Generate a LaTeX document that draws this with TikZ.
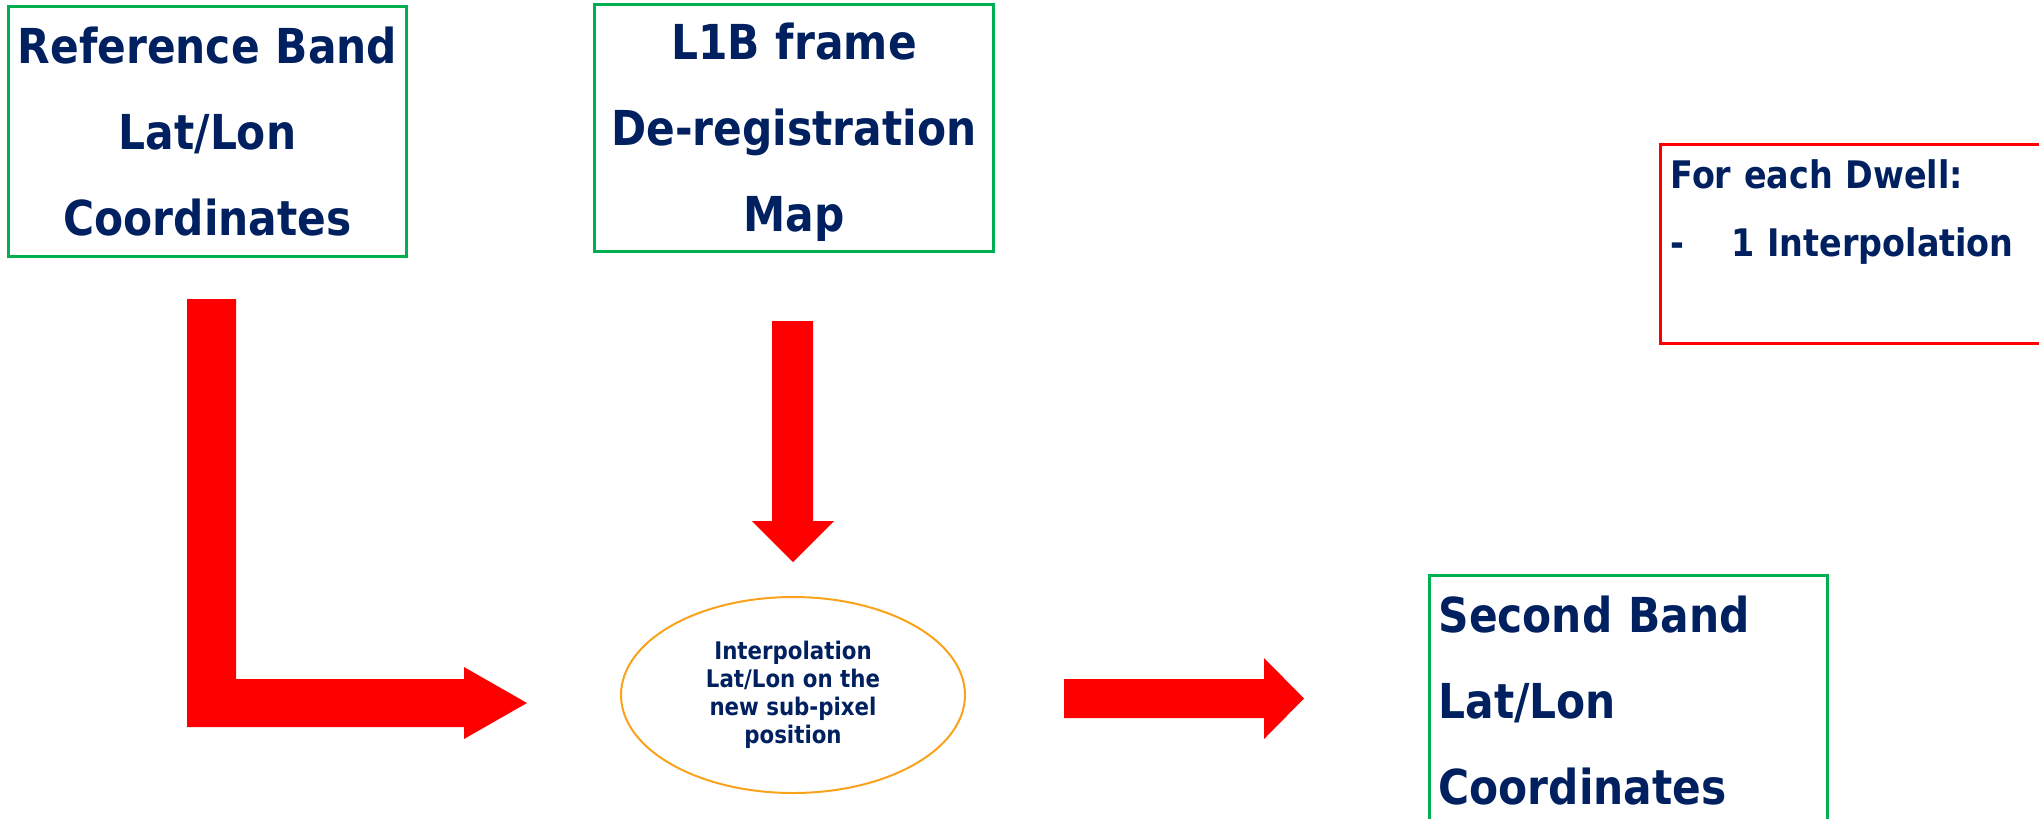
\documentclass[tikz,border=0pt]{standalone}
\usepackage{fontspec}
\usetikzlibrary{shapes.geometric}
\newfontfamily\diafont{DejaVu Sans}[FakeStretch=0.88]

\definecolor{txtblue}{HTML}{002060}
\definecolor{boxgreen}{HTML}{00B050}
\definecolor{arrowred}{HTML}{FF0000}
\definecolor{ellorange}{HTML}{F9A21B}

\tikzset{
  bigtext/.style={font=\diafont\bfseries\fontsize{13.7}{24.5}\selectfont, text=txtblue},
  midtext/.style={font=\diafont\bfseries\fontsize{10.8}{19.35}\selectfont, text=txtblue},
  smalltext/.style={font=\diafont\bfseries\fontsize{6.9}{8.0}\selectfont, text=txtblue},
  greenbox/.style={draw=boxgreen, line width=0.3mm, inner sep=0pt, anchor=north west},
  redbox/.style={draw=arrowred, line width=0.3mm, inner ysep=0pt, anchor=north west},
  blockarrow/.style={fill=arrowred, draw=none},
}

\begin{document}
\begin{tikzpicture}[x=0.1mm, y=-0.1mm]
\useasboundingbox (0,0) rectangle (2039,818);
\clip (0,0) rectangle (2039,818);

% input boxes
\node[greenbox, bigtext, align=center, text width=39.8mm,
      text height=5.7mm, text depth=19.3mm] (refband) at (7,5)
  {Reference Band\\Lat/Lon\\Coordinates};
\node[greenbox, bigtext, align=center, text width=39.9mm,
      text height=5.5mm, text depth=19.2mm] (l1b) at (593,3)
  {L1B frame\\De-registration\\Map};

% note box
\node[redbox, midtext, align=left, inner xsep=1mm, text width=50mm,
      text height=4.4mm, text depth=15.5mm] (note) at (1659,143)
  {For each Dwell:\\\makebox[6.1mm][l]{-}1 Interpolation};

% interpolation step
\node[ellipse, draw=ellorange, line width=0.2mm, inner sep=0pt,
      minimum width=34.4mm, minimum height=19.6mm, smalltext, align=center]
  (interp) at (793,695)
  {Interpolation\\Lat/Lon on the\\new sub-pixel\\position};

% output box
\node[greenbox, bigtext, align=left, inner xsep=0.9mm, text width=38mm,
      text height=5.7mm, text depth=25mm] (second) at (1428,574)
  {Second Band\\Lat/Lon\\Coordinates};

% block arrows
\coordinate (ltip) at (527,703);
\fill[blockarrow] (187,299) -- (236,299) -- (236,679) -- (464,679) -- (464,667)
  -- (ltip) -- (464,739) -- (464,727) -- (187,727) -- cycle;

\coordinate (dtip) at (793,562);
\fill[blockarrow] (772,321) -- (813,321) -- (813,521) -- (834,521) -- (dtip)
  -- (752,521) -- (772,521) -- cycle;

\coordinate (rtip) at (1304,698.5);
\fill[blockarrow] (1064,679) -- (1264,679) -- (1264,658) -- (rtip)
  -- (1264,739) -- (1264,718) -- (1064,718) -- cycle;
\end{tikzpicture}
\end{document}
